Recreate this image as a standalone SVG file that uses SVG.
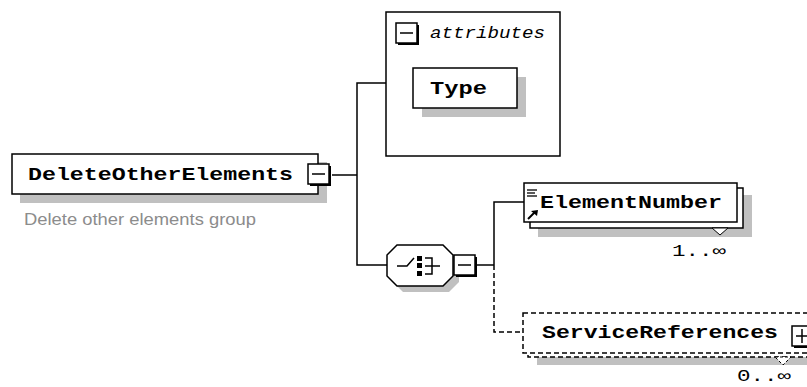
<svg xmlns="http://www.w3.org/2000/svg" width="807" height="387" viewBox="0 0 807 387">
<style>
.box{fill:#fff;stroke:#000;stroke-width:1.5}
.dbox{fill:#fff;stroke:#000;stroke-width:1.5;stroke-dasharray:5,3}
.sh{fill:#c0c0c0}
.ln{fill:none;stroke:#000;stroke-width:1.5}
.dl{fill:none;stroke:#000;stroke-width:1.5;stroke-dasharray:5,3}
.nm{font-family:"Liberation Mono",monospace;font-weight:bold;font-size:18px;fill:#000}
.mult{font-family:"Liberation Mono",monospace;font-size:16px;fill:#000}
.desc{font-family:"Liberation Sans",Arial,sans-serif;font-size:17px;fill:#8c8c8c}
.attr{font-family:"Liberation Mono",monospace;font-style:italic;font-size:16px;fill:#000}
</style>
<defs>
<g id="minus">
<rect x="2" y="2" width="21" height="20" fill="#000"/>
<rect x="0" y="0" width="21" height="20" class="box"/>
<line x1="4" y1="10" x2="17" y2="10" stroke="#000" stroke-width="1.5"/>
</g>
</defs>
<g id="connectors">
<line x1="332" y1="175" x2="357" y2="175" class="ln"/>
<polyline points="386,83 357,83 357,265 387,265" class="ln"/>
<line x1="477" y1="265" x2="494" y2="265" class="ln"/>
<polyline points="524,202 494,202 494,265" class="ln"/>
<polyline points="494,265 494,332 523,332" class="dl"/>
</g>
<g id="DeleteOtherElements">
<rect x="20" y="162" width="307" height="41" class="sh"/>
<rect x="12" y="154" width="306" height="40" class="box"/>
<text x="28" y="180" class="nm" textLength="265" lengthAdjust="spacingAndGlyphs">DeleteOtherElements</text>
<use href="#minus" x="308" y="164"/>
<text x="24" y="225" class="desc" textLength="232" lengthAdjust="spacingAndGlyphs">Delete other elements group</text>
</g>
<g id="attributes">
<rect x="386" y="12" width="174" height="144" class="box"/>
<use href="#minus" x="396" y="23"/>
<text x="430" y="38" class="attr" textLength="115" lengthAdjust="spacingAndGlyphs">attributes</text>
<g id="Type">
<rect x="422" y="77" width="104" height="40" class="sh"/>
<rect x="413" y="68" width="104" height="40" class="box"/>
<text x="430" y="94" class="nm" textLength="57" lengthAdjust="spacingAndGlyphs">Type</text>
</g>
</g>
<g id="choice">
<polygon points="403,251 449,251 459,261 459,282 449,292 403,292 393,282 393,261" class="sh"/>
<polygon points="397,245 443,245 453,255 453,276 443,286 397,286 387,276 387,255" class="box"/>
<polyline points="397,266 407,266 414,258" class="ln"/>
<rect x="417" y="256" width="5" height="5" fill="#000"/>
<rect x="417" y="263" width="5" height="5" fill="#000"/>
<rect x="417" y="271" width="5" height="5" fill="#000"/>
<polyline points="425,258 432,258 432,274 425,274" class="ln"/>
<line x1="425" y1="266" x2="440" y2="266" class="ln"/>
<use href="#minus" x="454" y="255"/>
</g>
<g id="ElementNumber">
<rect x="538" y="195" width="214" height="42" class="sh"/>
<rect x="530" y="188" width="213" height="40" class="box"/>
<rect x="524" y="183" width="213" height="39" class="box"/>
<line x1="527" y1="190" x2="537" y2="190" stroke="#000" stroke-width="1.3"/>
<line x1="527" y1="193" x2="535" y2="193" stroke="#000" stroke-width="1.3"/>
<line x1="527" y1="196" x2="537" y2="196" stroke="#000" stroke-width="1.3"/>
<line x1="528" y1="219" x2="535" y2="212" stroke="#000" stroke-width="2"/>
<polygon points="538,210 531,211 537,216" fill="#000"/>
<text x="540" y="208" class="nm" textLength="182" lengthAdjust="spacingAndGlyphs">ElementNumber</text>
<polygon points="712,228 728,228 720,235" fill="#fff" stroke="#000" stroke-width="1"/>
<text x="672" y="256" class="mult" textLength="54" lengthAdjust="spacingAndGlyphs">1..∞</text>
</g>
<g id="ServiceReferences">
<rect x="537" y="323" width="290" height="42" class="sh"/>
<rect x="528" y="318" width="290" height="39" class="dbox"/>
<rect x="523" y="313" width="290" height="40" class="dbox"/>
<text x="542" y="338" class="nm" textLength="236" lengthAdjust="spacingAndGlyphs">ServiceReferences</text>
<rect x="794" y="328" width="21" height="20" fill="#000"/>
<rect x="792" y="326" width="21" height="20" class="box"/>
<line x1="796" y1="336" x2="809" y2="336" stroke="#000" stroke-width="1.5"/>
<line x1="802" y1="329" x2="802" y2="343" stroke="#000" stroke-width="1.5"/>
<polygon points="775,357 791,357 783,365" fill="#fff" stroke="#000" stroke-width="1" stroke-dasharray="3,2"/>
<text x="737" y="381" class="mult" textLength="54" lengthAdjust="spacingAndGlyphs">0..∞</text>
</g>
</svg>
